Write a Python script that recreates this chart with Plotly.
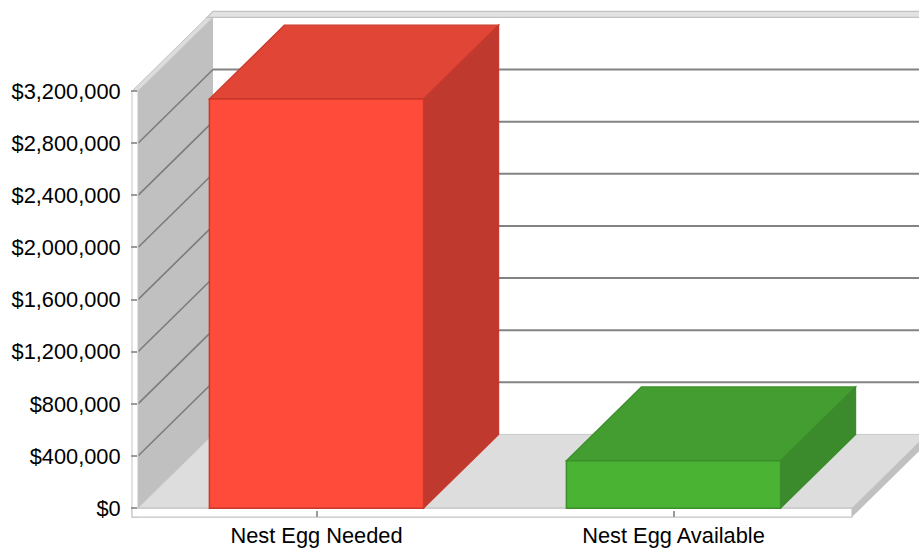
import plotly.graph_objects as go

# ---- data -------------------------------------------------------------
categories = ["Nest Egg Needed", "Nest Egg Available"]
values = [3140000, 364000]
tick_values = [0, 400000, 800000, 1200000, 1600000, 2000000, 2400000, 2800000, 3200000]
tick_labels = [f"${v:,.0f}" for v in tick_values]

front_colors = ["#ff4b3a", "#4bb334"]
top_colors = ["#e04535", "#449d31"]
side_colors = ["#c0392e", "#3b8a2b"]
edge_colors = ["#c9392b", "#3a8f2a"]

# ---- layout geometry (pixels) ------------------------------------------
W, H = 919, 548
FRONT_LEFT_PX = 138          # where x = 0 sits on the front plane
PX_PER_CAT = 357             # width of one category slot
ZERO_PX = 510                # where value 0 sits on the front plane
PX_PER_VALUE = 130.8 / 1e6   # vertical pixels per dollar
DEPTH_X_PX, DEPTH_Y_PX = 75, 74
WALL_PX = 6
FLOOR_PX = 9
BAR_WIDTH = 0.6

x_range = [-FRONT_LEFT_PX / PX_PER_CAT, (W - FRONT_LEFT_PX) / PX_PER_CAT]
y_range = [-(H - ZERO_PX) / PX_PER_VALUE, ZERO_PX / PX_PER_VALUE]

# depth offsets converted into axis units
ddx = DEPTH_X_PX / PX_PER_CAT
ddy = DEPTH_Y_PX / PX_PER_VALUE
tx = WALL_PX / PX_PER_CAT
ty = WALL_PX / PX_PER_VALUE
floor_t = FLOOR_PX / PX_PER_VALUE
XMAX = len(categories)
YMAX = tick_values[-1]

shapes = []


def poly(points, fill, line_color=None, line_width=1):
    path = "M " + " L ".join(f"{x},{y}" for x, y in points) + " Z"
    shapes.append(dict(
        type="path", path=path, xref="x", yref="y", layer="below",
        fillcolor=fill,
        line=dict(color=line_color or fill, width=line_width if line_color else 0),
    ))


def seg(x0, y0, x1, y1, color, width):
    shapes.append(dict(
        type="line", x0=x0, y0=y0, x1=x1, y1=y1, xref="x", yref="y",
        layer="below", line=dict(color=color, width=width),
    ))


# left wall (side face)
poly([(0, 0), (0, YMAX), (ddx, YMAX + ddy), (ddx, ddy)], "#c0c0c0")
# floor (top face)
poly([(0, 0), (XMAX, 0), (XMAX + ddx, ddy), (ddx, ddy)], "#dddddd", "#c8c8c8", 1)

# gridlines: diagonal on the wall, horizontal on the back wall
for v in tick_values[1:-1]:
    seg(0, v, ddx, v + ddy, "#7c7c7c", 1.6)
    seg(ddx, v + ddy, XMAX + ddx * 1.2, v + ddy, "#838383", 2)

# wall thickness: front edge strip and top strip
poly([(-tx, -floor_t), (0, -floor_t), (0, YMAX), (-tx, YMAX)], "#ffffff", "#c4c4c4", 1)
poly([(-tx, YMAX), (0, YMAX), (ddx, YMAX + ddy), (ddx - tx, YMAX + ddy)], "#dcdcdc", "#c4c4c4", 1)
# back wall top strip
poly([(ddx - tx, YMAX + ddy), (XMAX + ddx * 1.3, YMAX + ddy),
      (XMAX + ddx * 1.3, YMAX + ddy + ty), (ddx, YMAX + ddy + ty)], "#e2e2e2", "#c2c2c2", 1.2)

# floor thickness: front strip and right side
poly([(-tx, 0), (XMAX, 0), (XMAX, -floor_t), (-tx, -floor_t)], "#ffffff", "#c4c4c4", 1.2)
poly([(XMAX, 0), (XMAX + ddx, ddy), (XMAX + ddx, ddy - floor_t), (XMAX, -floor_t)], "#c0c0c0")

# bar top and side faces
for i, v in enumerate(values):
    c = i + 0.5
    l, r = c - BAR_WIDTH / 2, c + BAR_WIDTH / 2
    poly([(l, v), (r, v), (r + ddx, v + ddy), (l + ddx, v + ddy)], top_colors[i], edge_colors[i], 1.2)
    poly([(r, 0), (r, v), (r + ddx, v + ddy), (r + ddx, ddy)], side_colors[i], edge_colors[i], 1.2)

fig = go.Figure()
fig.add_trace(go.Bar(
    x=[i + 0.5 for i in range(len(categories))],
    y=values,
    width=BAR_WIDTH,
    marker=dict(color=front_colors, line=dict(color=edge_colors, width=1.5)),
    hoverinfo="skip",
    showlegend=False,
))

font = dict(family="Liberation Sans, Arial, sans-serif", size=21.8, color="#000000")

fig.update_layout(
    width=W, height=H, autosize=False,
    margin=dict(l=0, r=0, t=0, b=0, pad=0),
    paper_bgcolor="#ffffff", plot_bgcolor="#ffffff",
    shapes=shapes,
    showlegend=False,
    xaxis=dict(
        range=x_range, domain=[0, 1], anchor="free",
        position=(H - (ZERO_PX + FLOOR_PX)) / H,
        showgrid=False, zeroline=False, showline=False,
        tickmode="array", tickvals=[i + 0.5 for i in range(len(categories))],
        ticktext=categories, ticks="inside", ticklen=6, tickwidth=2,
        tickcolor="#9a9a9a", tickfont=font, ticklabelstandoff=3,
        fixedrange=True,
    ),
    yaxis=dict(
        range=y_range, domain=[0, 1], anchor="free",
        position=(FRONT_LEFT_PX - 1) / W,
        showgrid=False, zeroline=False, showline=False,
        tickmode="array", tickvals=tick_values, ticktext=tick_labels,
        ticks="outside", ticklen=6, tickwidth=1.5, tickcolor="#9a9a9a",
        tickfont=font, ticklabelstandoff=6,
        fixedrange=True,
    ),
)

fig.write_html("out.html")
